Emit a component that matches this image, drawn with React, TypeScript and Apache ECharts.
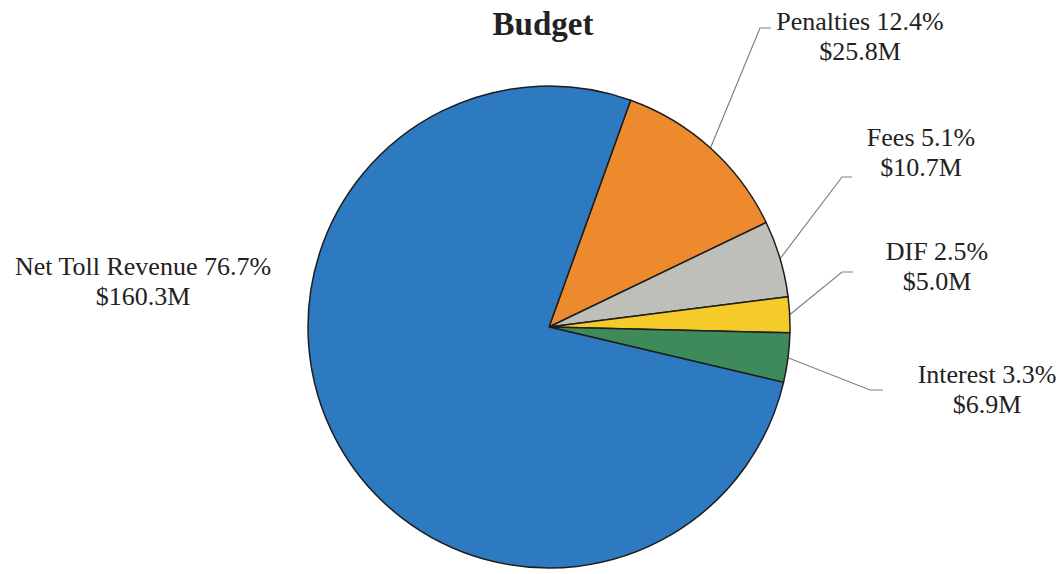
import React, { useEffect, useRef } from "react";
import * as echarts from "echarts";

// Budget composition, in $ millions
const categories = ["Penalties", "Fees", "DIF", "Interest", "Net Toll Revenue"];
const amounts = [25.8, 10.7, 5.0, 6.9, 160.3];
const percentLabels = ["12.4", "5.1", "2.5", "3.3", "76.7"];
const amountLabels = ["25.8", "10.7", "5.0", "6.9", "160.3"];
const sliceColors = ["#EE8A2E", "#BDBFB8", "#F5CB2A", "#3E8A5A", "#2D7AC0"];

// Where each label block sits, and the elbow / end of its leader line
const labelCenters: [number, number][] = [
  [860, 36],
  [921, 152],
  [937, 266],
  [987, 389],
  [143, 281],
];
const leaderElbows: ([number, number] | null)[] = [
  [760, 28],
  [842, 177],
  [842, 272],
  [870, 390],
  null,
];
const leaderEnds: ([number, number] | null)[] = [
  [771, 28],
  [852, 177],
  [853, 272],
  [883, 390],
  null,
];

const CENTER: [number, number] = [549, 327];
const RADIUS = 241;
const START_ANGLE = 70.2;

export default function App() {
  const ref = useRef<HTMLDivElement>(null);

  useEffect(() => {
    if (!ref.current) return;
    const chart = echarts.init(ref.current, undefined, { renderer: "svg" });
    const total = amounts.reduce((a, b) => a + b, 0);

    // Mid-angle point on the rim of each slice, used as the leader line start
    const rimPoint = (i: number): [number, number] => {
      const before = amounts.slice(0, i).reduce((a, b) => a + b, 0);
      const mid = START_ANGLE - ((before + amounts[i] / 2) / total) * 360;
      const rad = (mid * Math.PI) / 180;
      return [CENTER[0] + RADIUS * Math.cos(rad), CENTER[1] - RADIUS * Math.sin(rad)];
    };

    chart.setOption({
      animation: false,
      backgroundColor: "#ffffff",
      title: {
        text: "Budget",
        left: 538,
        top: 2,
        textAlign: "center",
        textStyle: {
          fontFamily: "Liberation Serif",
          fontWeight: "bold",
          fontSize: 33,
          color: "#222222",
        },
      },
      series: [
        {
          type: "pie",
          center: CENTER,
          radius: RADIUS,
          startAngle: START_ANGLE,
          clockwise: true,
          avoidLabelOverlap: false,
          data: categories.map((name, i) => ({
            name,
            value: amounts[i],
            itemStyle: { color: sliceColors[i] },
          })),
          itemStyle: {
            borderColor: "#1e1e1e",
            borderWidth: 1.5,
          },
          label: {
            show: true,
            fontFamily: "Liberation Serif",
            fontSize: 26,
            lineHeight: 30,
            color: "#222222",
            align: "center",
            formatter: (p: any) =>
              `${p.name} ${percentLabels[p.dataIndex]}%\n$${amountLabels[p.dataIndex]}M`,
          },
          labelLine: {
            show: true,
            lineStyle: { color: "#808080", width: 1.2 },
          },
          labelLayout: (params: any) => {
            const i = params.dataIndex;
            const [x, y] = labelCenters[i];
            const elbow = leaderElbows[i];
            const end = leaderEnds[i];
            const layout: any = {
              x,
              y,
              align: "center",
              verticalAlign: "middle",
            };
            if (elbow && end) {
              layout.labelLinePoints = [rimPoint(i), elbow, end];
            } else {
              layout.labelLinePoints = [rimPoint(i), rimPoint(i), rimPoint(i)];
            }
            return layout;
          },
          emphasis: { disabled: true },
        },
      ],
    });

    return () => chart.dispose();
  }, []);

  return (
    <div
      ref={ref}
      style={{ position: "fixed", left: 0, top: 0, width: 1058, height: 574 }}
    />
  );
}
